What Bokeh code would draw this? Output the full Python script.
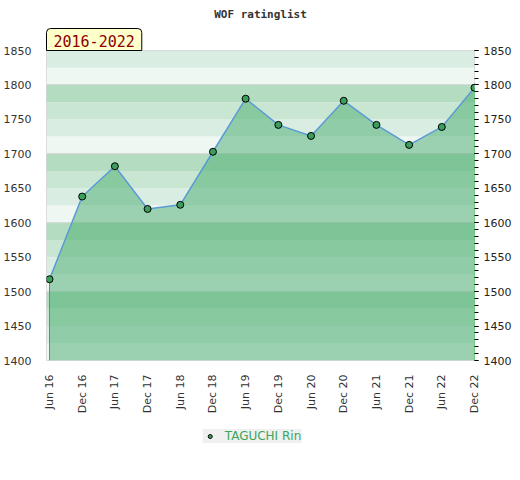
import math
from bokeh.plotting import figure
from bokeh.layouts import column
from bokeh.models import (Range1d, FixedTicker, SingleIntervalTicker, LinearAxis,
                          Legend, LegendItem, Title, ColumnDataSource)
from bokeh.embed import file_html
from bokeh.resources import INLINE

months = ["Jun 16", "Dec 16", "Jun 17", "Dec 17", "Jun 18", "Dec 18", "Jun 19",
          "Dec 19", "Jun 20", "Dec 20", "Jun 21", "Dec 21", "Jun 22", "Dec 22"]
ratings = [1518, 1638, 1682, 1620, 1626, 1703, 1780,
           1742, 1726, 1777, 1742, 1713, 1739, 1796]
player = "TAGUCHI Rin"
title_text = "WOF ratinglist"
period_text = "2016-2022"

y_min, y_max = 1400, 1850
xs = list(range(len(months)))

x_lo = -0.092
x_hi = len(months) - 1

p = figure(frame_width=428, frame_height=310, output_backend="svg", toolbar_location=None,
           x_range=Range1d(x_lo, x_hi), y_range=Range1d(y_min, y_max),
           min_border_left=37, min_border_right=39, min_border_top=42,
           min_border_bottom=0)

p.background_fill_color = "white"
p.border_fill_color = "white"
p.outline_line_color = "#d6d6d6"

# stripes
stripe_colors = {75: "#b3dcc1", 50: "#c9e6d3", 25: "#daede2", 0: "#eef7f2"}
lows = list(range(y_min, y_max, 25))
p.quad(left=x_lo, right=x_hi, bottom=lows, top=[v + 25 for v in lows],
       fill_color=[stripe_colors[v % 100] for v in lows], line_color=None, level="underlay")

p.xgrid.visible = False
p.ygrid.ticker = SingleIntervalTicker(interval=100)
p.ygrid.grid_line_color = "#d9d9d9"
p.ygrid.level = "underlay"

src = ColumnDataSource(dict(x=xs, y=ratings))
p.varea(x="x", y1=y_min, y2="y", source=src, fill_color="#47ac6e", fill_alpha=0.5)
p.segment(x0=[xs[0], xs[-1]], x1=[xs[0], xs[-1]], y0=[y_min, y_min],
          y1=[ratings[0], ratings[-1]], line_color="#22bb44", line_width=1)
p.line(x="x", y="y", source=src, line_color="#5b9bd5", line_width=1.5)
p.scatter(x="x", y="y", source=src, size=7, fill_color="#3a9e5c",
          line_color="black", line_width=1)

# axes
p.xaxis.ticker = FixedTicker(ticks=xs)
p.xaxis.major_label_overrides = {i: m for i, m in enumerate(months)}
p.xaxis.major_label_orientation = math.pi / 2
p.xaxis.axis_line_color = None
p.xaxis.major_tick_line_color = None
p.xaxis.minor_tick_line_color = None
p.xaxis.major_label_standoff = 8
p.xaxis.major_label_text_font = "DejaVu Sans"
p.xaxis.major_label_text_font_size = "11px"
p.xaxis.major_label_text_color = "#333333"

p.yaxis.ticker = SingleIntervalTicker(interval=50)
p.yaxis.axis_line_color = None
p.yaxis.major_tick_line_color = None
p.yaxis.minor_tick_line_color = None
p.yaxis.major_label_standoff = 9
p.yaxis.major_label_text_font = "DejaVu Sans"
p.yaxis.major_label_text_font_size = "11px"
p.yaxis.major_label_text_color = "#333333"

ry = LinearAxis(ticker=SingleIntervalTicker(interval=50, num_minor_ticks=5))
ry.axis_line_color = None
ry.major_tick_in = 0
ry.major_tick_out = 4
ry.minor_tick_in = 0
ry.minor_tick_out = 4
ry.major_tick_line_color = "black"
ry.minor_tick_line_color = "black"
ry.major_label_standoff = 5
ry.major_label_text_font = "DejaVu Sans"
ry.major_label_text_font_size = "11px"
ry.major_label_text_color = "#222222"
p.add_layout(ry, "right")

# period badge (nearest to the frame), then main title
badge = Title(text=period_text, align="left", standoff=0,
              text_font="DejaVu Sans Mono", text_font_size="15px",
              text_font_style="normal", text_color="#8b0000",
              background_fill_color="#ffffcc", background_fill_alpha=1.0,
              border_line_color="black", border_line_width=1,
              padding=dict(left=7, right=7, top=6, bottom=4),
              border_radius=dict(top_left=4, top_right=4, bottom_left=0, bottom_right=0))
p.add_layout(badge, "above")
main_title = Title(text=title_text, align="center", standoff=11,
                   text_font="DejaVu Sans Mono", text_font_size="11px",
                   text_font_style="bold", text_color="#333333")
p.add_layout(main_title, "above")

# legend strip below the chart (its key renderer's points fall outside its frame)
lf = figure(frame_width=504, frame_height=50, output_backend="svg", toolbar_location=None,
            x_range=Range1d(-100, -99), y_range=Range1d(-100, -99),
            x_axis_location=None, y_axis_location=None,
            min_border_left=0, min_border_right=0, min_border_top=0, min_border_bottom=0)
lf.grid.visible = False
lf.outline_line_color = None
lf.background_fill_color = "white"
lf.border_fill_color = "white"
key = lf.scatter(x="x", y="y", source=src, size=7, fill_color="#3a9e5c",
                 line_color="black", line_width=1)

legend = Legend(items=[LegendItem(label=player, renderers=[key])],
                location="top_center", orientation="horizontal")
legend.background_fill_color = "#f0f0f0"
legend.background_fill_alpha = 1.0
legend.border_line_color = None
legend.label_text_color = "#3aa65a"
legend.label_text_font = "DejaVu Sans"
legend.label_text_font_size = "12px"
legend.padding = 3
legend.margin = 13
legend.glyph_width = 14
legend.glyph_height = 10
legend.label_height = 10
legend.label_standoff = 8
lf.add_layout(legend)

layout = column(p, lf, spacing=0)
open("out.html", "w").write(file_html(layout, INLINE))
